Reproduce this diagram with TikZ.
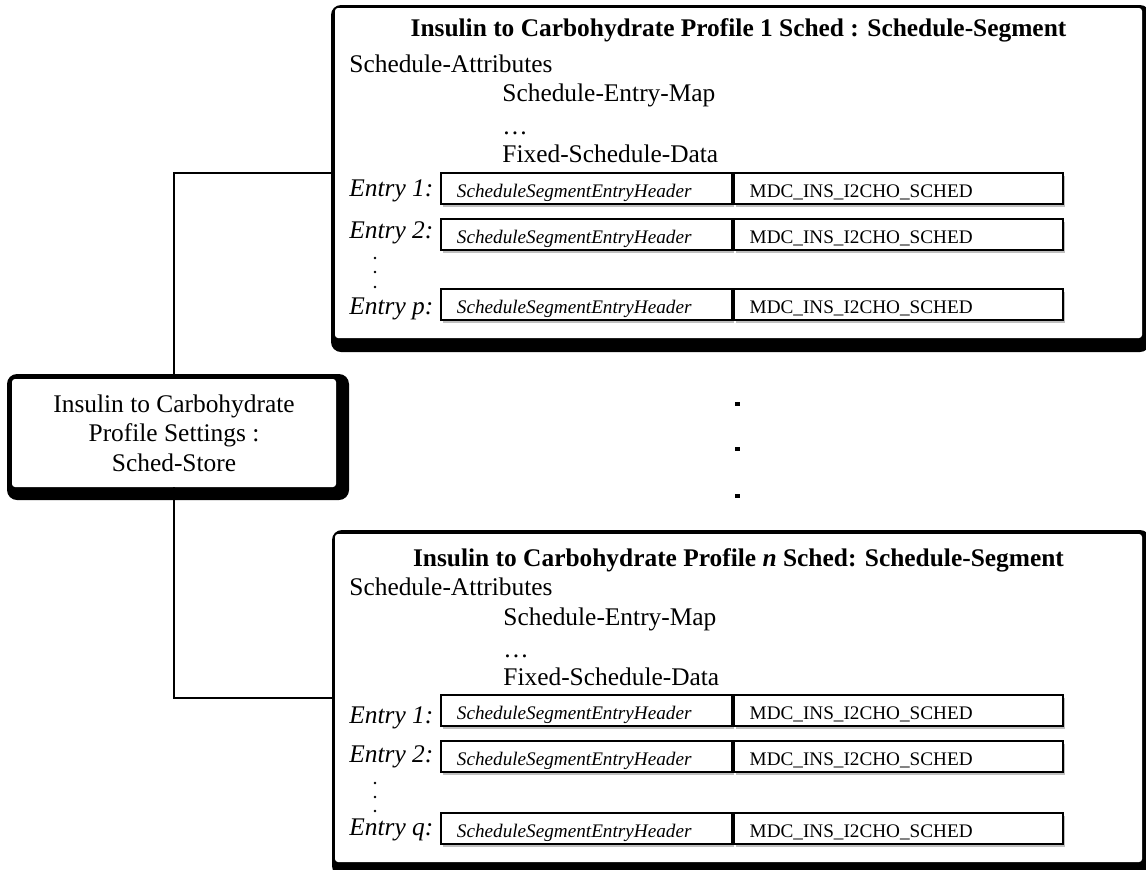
\documentclass[tikz,border=0pt]{standalone}
\usepackage{fontspec}
\setmainfont{Liberation Serif}
\usetikzlibrary{shadows}
\definecolor{col_000000}{RGB}{0,0,0}
\definecolor{col_ffffff}{RGB}{255,255,255}
\newcommand{\mainsize}{\fontsize{12.7}{14.75}\selectfont}
\newcommand{\cellsize}{\fontsize{9.6}{11.5}\selectfont}
\tikzset{
  outer box/.style={fill=col_000000, rounded corners=5pt, inner sep=0pt},
  inner box/.style={fill=col_ffffff, rounded corners=1.5pt, inner sep=0pt},
  link/.style={draw=col_000000, line width=1.3pt},
  entry label/.style={anchor=base west, inner sep=0pt, font=\mainsize\itshape},
  line text/.style={anchor=base west, inner sep=0pt},
  cell/.style={draw=col_000000, line width=0.9pt, fill=col_ffffff, inner xsep=8pt, inner ysep=0pt,
    minimum height=15.5pt, text height=9pt, text depth=0pt, align=left,
    drop shadow={shadow xshift=1pt, shadow yshift=-1.5pt, fill=col_000000, opacity=0.25}},
  head cell/.style={cell, anchor=north west, text width=129.5pt, font=\cellsize\itshape},
  code cell/.style={cell, anchor=west, text width=148.5pt, font=\cellsize}
}
\newcommand{\tikzdrawentry}[4]{%
\node[entry label] (#1lab) at (349,#3) {Entry #4:};
\node[head cell] (#1head) at (440,#2) {ScheduleSegmentEntryHeader};
\node[code cell] (#1code) at (#1head.east) {MDC\_INS\_I2CHO\_SCHED};
}

\begin{document}
\begin{tikzpicture}[x=0.5pt, y=-0.5pt, font=\mainsize]
\useasboundingbox (0,0) rectangle (1146,869);
%% store box
\node[outer box, minimum width=171pt, minimum height=63pt] (store) at (178,437) {};
\node[inner box, minimum width=162pt, minimum height=54pt, align=center] (storein) at (174,433) {Insulin to Carbohydrate\\Profile Settings :\\Sched-Store};
%% segment 1
\node[outer box, minimum width=409.5pt, minimum height=173.5pt] (seg1) at (740.5,178.5) {};
\node[inner box, minimum width=403.5pt, minimum height=165pt] (seg1in) at (738.5,173) {};
\node[anchor=base, inner sep=0pt, font=\mainsize\bfseries] (seg1title) at (738.5,36) {Insulin to Carbohydrate Profile 1 Sched : Schedule-Segment};
\node[line text] (seg1attr) at (349,72) {Schedule-Attributes};
\node[line text] (seg1map) at (502,101) {Schedule-Entry-Map};
\node[line text] (seg1more) at (502,134) {…};
\node[line text] (seg1data) at (502,162) {Fixed-Schedule-Data};
\tikzdrawentry{e1}{172}{196}{1}
\tikzdrawentry{e2}{218}{238}{2}
\tikzdrawentry{ep}{288}{314}{p}
%% segment n
\node[outer box, minimum width=409pt, minimum height=173pt] (segn) at (741,703) {};
\node[inner box, minimum width=403.5pt, minimum height=164pt] (segnin) at (738.5,698) {};
\node[anchor=base, inner sep=0pt, font=\mainsize\bfseries] (segntitle) at (738.5,566) {Insulin to Carbohydrate Profile \textit{n} Sched: Schedule-Segment};
\node[line text] (segnattr) at (349,595) {Schedule-Attributes};
\node[line text] (segnmap) at (503,625) {Schedule-Entry-Map};
\node[line text] (segnmore) at (503,657) {…};
\node[line text] (segndata) at (503,685) {Fixed-Schedule-Data};
\tikzdrawentry{f1}{694}{723}{1}
\tikzdrawentry{f2}{740}{762}{2}
\tikzdrawentry{fq}{812}{835}{q}
%% dots
\foreach \y in {258,272,287,783,797,811} \fill[col_000000] (375,\y) circle[radius=0.7pt];
\foreach \y in {402,447,494} \fill[col_000000] (735,\y) rectangle ++(5,4);
%% links
\draw[link] (storein.north) |- (seg1in.west);
\draw[link] (storein.south) |- (segnin.west);
\end{tikzpicture}
\end{document}
